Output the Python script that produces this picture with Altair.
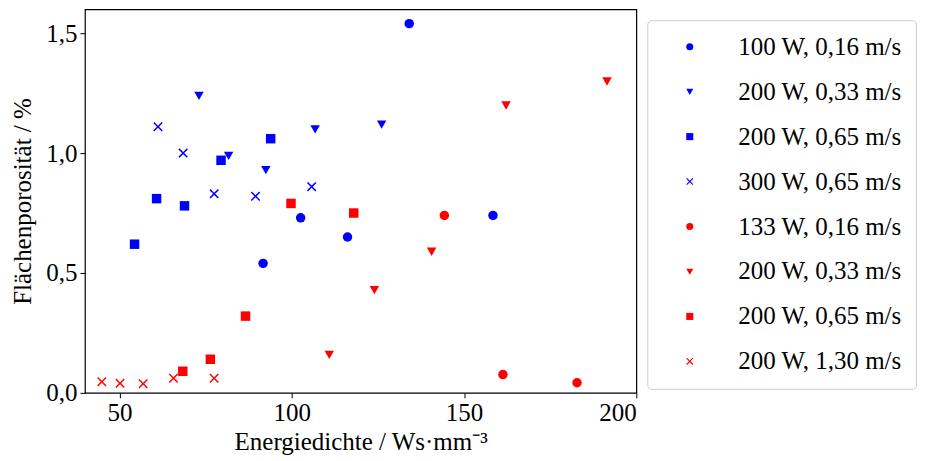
import altair as alt
import pandas as pd

# series keys, labels, colours, shapes
keys = ["b1", "b2", "b3", "b4", "r1", "r2", "r3", "r4"]
labels = ["100 W, 0,16 m/s", "200 W, 0,33 m/s", "200 W, 0,65 m/s", "300 W, 0,65 m/s",
          "133 W, 0,16 m/s", "200 W, 0,33 m/s", "200 W, 0,65 m/s", "200 W, 1,30 m/s"]
colors = ["#0000ff"] * 4 + ["#ff0000"] * 4
XPATH = ("M0,-0.22L0.78,-1L1,-0.78L0.22,0L1,0.78L0.78,1L0,0.22L-0.78,1L-1,0.78"
         "L-0.22,0L-1,-0.78L-0.78,-1Z")
TRI = "M-1,-0.8L1,-0.8L0,0.95Z"
shapes = ["circle", TRI, "square", XPATH,
          "circle", TRI, "square", XPATH]

b1_x = [91.7, 102.6, 116.2, 134.1, 158.4]
b1_y = [0.54, 0.73, 0.65, 1.54, 0.74]
b2_x = [73.1, 81.7, 92.5, 106.8, 126.1]
b2_y = [1.24, 0.99, 0.93, 1.10, 1.12]
b3_x = [54.4, 60.8, 68.9, 79.5, 93.9]
b3_y = [0.62, 0.81, 0.78, 0.97, 1.06]
b4_x = [61.2, 68.5, 77.5, 89.5, 105.8]
b4_y = [1.11, 1.00, 0.83, 0.82, 0.86]
r1_x = [144.3, 161.3, 182.8]
r1_y = [0.74, 0.076, 0.042]
r2_x = [110.9, 124.0, 140.6, 162.2, 191.5]
r2_y = [0.16, 0.43, 0.59, 1.20, 1.30]
r3_x = [68.4, 76.4, 86.6, 99.8, 118.0]
r3_y = [0.09, 0.14, 0.32, 0.79, 0.75]
r4_x = [44.9, 50.2, 56.9, 65.7, 77.5]
r4_y = [0.046, 0.040, 0.038, 0.061, 0.061]

xs = [b1_x, b2_x, b3_x, b4_x, r1_x, r2_x, r3_x, r4_x]
ys = [b1_y, b2_y, b3_y, b4_y, r1_y, r2_y, r3_y, r4_y]

rows = []
for k, xv, yv in zip(keys, xs, ys):
    for a, b in zip(xv, yv):
        rows.append({"series": k, "E": a, "P": b})
df = pd.DataFrame(rows)

label_expr = " : ".join(
    [f"datum.value == '{k}' ? '{l}'" for k, l in zip(keys, labels)]) + " : ''"

FONT = "Liberation Serif"

chart = alt.Chart(df).mark_point(filled=True, opacity=1, size=90).encode(
    x=alt.X("E:Q", scale=alt.Scale(domain=[40, 200], nice=False, zero=False),
            axis=alt.Axis(values=[50, 100, 150, 200], title="Energiedichte / Ws·mm⁻³",
                          format="d")),
    y=alt.Y("P:Q", scale=alt.Scale(domain=[0, 1.6], nice=False),
            axis=alt.Axis(values=[0, 0.5, 1.0, 1.5], title="Flächenporosität / %",
                          labelExpr="replace(format(datum.value, '.1f'), '.', ',')")),
    color=alt.Color("series:N", scale=alt.Scale(domain=keys, range=colors),
                    sort=keys, title=None,
                    legend=alt.Legend(orient="none", legendX=563, legendY=11,
                                      labelExpr=label_expr)),
    shape=alt.Shape("series:N", scale=alt.Scale(domain=keys, range=shapes),
                    sort=keys, title=None),
).properties(
    width=552, height=384,
    autosize=alt.AutoSizeParams(type="none"),
    padding={"left": 77, "top": 1, "right": 300, "bottom": 68},
).configure(
    font=FONT,
).configure_view(
    stroke="black", strokeWidth=1.2,
).configure_axis(
    grid=False, domain=False, tickColor="black", tickSize=5, tickWidth=1,
    labelFont=FONT, labelFontSize=25, labelColor="black",
    titleFont=FONT, titleFontSize=25, titleColor="black", titleFontWeight="normal",
).configure_axisX(
    labelPadding=3, titlePadding=4,
).configure_axisY(
    labelPadding=3, titlePadding=10,
).configure_legend(
    labelFont=FONT, labelFontSize=25, labelColor="black", labelLimit=0,
    symbolSize=50, rowPadding=19, padding=14, symbolOffset=16, labelOffset=36,
    strokeColor="#cccccc", fillColor="white", cornerRadius=4,
)

chart.save("out.html", embed_options={"renderer": "svg", "actions": False})
